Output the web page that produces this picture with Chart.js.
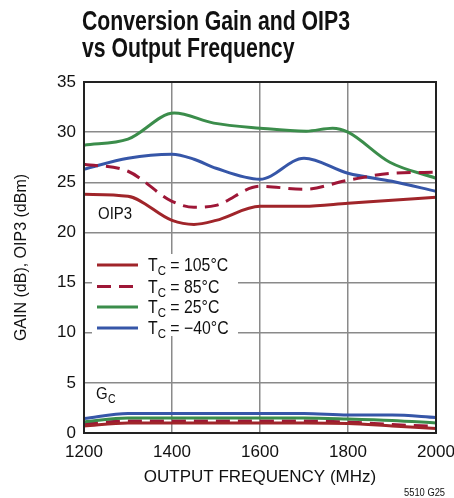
<!DOCTYPE html>
<html>
<head>
<meta charset="utf-8">
<script src="https://cdn.jsdelivr.net/npm/chart.js@4.4.1/dist/chart.umd.min.js"></script>
<style>
  html, body { margin: 0; padding: 0; background: #fff; }
  #wrap { width: 454px; height: 498px; position: relative; }
</style>
</head>
<body>
<div id="wrap"><canvas id="myChart" width="454" height="498"></canvas></div>
<script>
// frequency points (MHz)
var freq = [1200, 1300, 1400, 1450, 1500, 1600, 1700, 1800, 1900, 2000];
var freqGreen = [1200, 1300, 1405, 1495, 1600, 1705, 1765, 1800, 1895, 2000];

// OIP3 (dBm)
var oip3_105 = [23.8, 23.6, 21.2, 20.8, 21.2, 22.6, 22.6, 22.9, 23.2, 23.5];
var oip3_85  = [26.8, 26.1, 23.1, 22.5, 22.7, 24.6, 24.3, 25.2, 25.9, 26.0];
var oip3_25  = [28.7, 29.3, 31.9, 30.9, 30.4, 30.1, 30.4, 30.0, 27.0, 25.4];
var oip3_m40 = [26.3, 27.4, 27.8, 27.3, 26.4, 25.3, 27.4, 25.9, 25.1, 24.1];

// conversion gain (dB)
var gainFreq = [1200, 1300, 1400, 1500, 1600, 1700, 1800, 1900, 2000];
var gain_105 = [0.7, 1.0, 1.0, 1.0, 1.0, 1.0, 0.95, 0.7, 0.45];
var gain_85  = [0.9, 1.2, 1.2, 1.2, 1.2, 1.2, 1.1, 0.85, 0.65];
var gain_25  = [1.1, 1.5, 1.5, 1.5, 1.5, 1.5, 1.4, 1.25, 1.0];
var gain_m40 = [1.45, 1.95, 1.95, 1.95, 1.95, 1.95, 1.8, 1.8, 1.55];

var xTicks = [1200, 1400, 1600, 1800, 2000];
var yTicks = [0, 5, 10, 15, 20, 25, 30, 35];

var legendLabels = ['105°C', '85°C', '25°C', '\u221240°C'];

var RED = '#a0252a', CRIMSON = '#9e1737', GREEN = '#3b8d4b', BLUE = '#3656a8';
var FONT = '"Liberation Sans", Arial, sans-serif';

var pts = function (xs, ys) {
    return xs.map(function (x, i) { return {x: x, y: ys[i]}; });
};

var line = function (data, color, dashed) {
    return {
        data: data,
        borderColor: color,
        backgroundColor: 'transparent',
        borderWidth: 3,
        borderDash: dashed ? [14, 8] : [],
        pointRadius: 0,
        cubicInterpolationMode: 'monotone',
        fill: false
    };
};

// draw text squeezed horizontally to look like a condensed face
var narrowText = function (ctx, text, x, y, sx) {
    ctx.save();
    ctx.translate(x, y);
    ctx.scale(sx, 1);
    ctx.fillText(text, 0, 0);
    ctx.restore();
};

var textPlugin = {
    id: 'textPlugin',
    afterDraw: function (chart) {
        var ctx = chart.ctx;
        var area = chart.chartArea;
        ctx.save();
        // title
        ctx.fillStyle = '#111';
        ctx.textBaseline = 'alphabetic';
        ctx.textAlign = 'left';
        ctx.font = 'bold 27px ' + FONT;
        var sx = 268 / ctx.measureText('Conversion Gain and OIP3').width;
        narrowText(ctx, 'Conversion Gain and OIP3', 82, 30, sx);
        narrowText(ctx, 'vs Output Frequency', 82, 57, sx);

        // curve labels
        ctx.font = '17px ' + FONT;
        narrowText(ctx, 'OIP3', 98, 219, 0.88);
        narrowText(ctx, 'G', 96, 399, 0.88);
        ctx.font = '12px ' + FONT;
        narrowText(ctx, 'C', 108, 403, 0.88);

        // legend
        ctx.fillStyle = '#fff';
        ctx.fillRect(92, 254, 146, 82);
        var colors = [RED, CRIMSON, GREEN, BLUE];
        var rows = [265, 286.5, 307, 328];
        for (var i = 0; i < 4; i++) {
            ctx.strokeStyle = colors[i];
            ctx.lineWidth = 3;
            ctx.setLineDash(i === 1 ? [14, 8] : []);
            ctx.beginPath();
            ctx.moveTo(97, rows[i]);
            ctx.lineTo(138, rows[i]);
            ctx.stroke();
            ctx.setLineDash([]);
            ctx.fillStyle = '#111';
            ctx.font = '18px ' + FONT;
            narrowText(ctx, 'T', 148, rows[i] + 6, 0.88);
            var tw = ctx.measureText('T').width * 0.88;
            ctx.font = '13px ' + FONT;
            narrowText(ctx, 'C', 148 + tw, rows[i] + 10, 0.88);
            var cw = ctx.measureText('C').width * 0.88;
            ctx.font = '18px ' + FONT;
            narrowText(ctx, ' = ' + legendLabels[i], 148 + tw + cw, rows[i] + 6, 0.88);
        }

        // frame
        ctx.strokeStyle = '#222';
        ctx.lineWidth = 2;
        ctx.strokeRect(area.left, area.top, area.right - area.left, area.bottom - area.top);

        // figure id
        ctx.fillStyle = '#111';
        ctx.font = '11px ' + FONT;
        narrowText(ctx, '5510 G25', 404, 496, 0.85);
        ctx.restore();
    }
};

var ctx = document.getElementById('myChart');
var myChart = new Chart(ctx, {
    type: 'line',
    data: {
        datasets: [
            line(pts(freq, oip3_105), RED, false),
            line(pts(freq, oip3_85), CRIMSON, true),
            line(pts(freqGreen, oip3_25), GREEN, false),
            line(pts(freq, oip3_m40), BLUE, false),
            line(pts(gainFreq, gain_m40), BLUE, false),
            line(pts(gainFreq, gain_25), GREEN, false),
            line(pts(gainFreq, gain_105), RED, false),
            line(pts(gainFreq, gain_85), CRIMSON, true)
        ]
    },
    options: {
        responsive: false,
        animation: false,
        layout: {padding: {top: 82, right: 18, left: 0, bottom: 0}},
        plugins: {
            legend: {display: false},
            title: {display: false},
            tooltip: {enabled: false}
        },
        scales: {
            x: {
                type: 'linear',
                min: 1200,
                max: 2000,
                afterBuildTicks: function (axis) {
                    axis.ticks = xTicks.map(function (v) { return {value: v}; });
                },
                afterFit: function (axis) {
                    axis.height = 65;
                    axis.paddingLeft = 0;
                    axis.paddingRight = 0;
                },
                grid: {color: '#8a8a8a', lineWidth: 1.5, drawTicks: false},
                border: {display: false},
                ticks: {
                    color: '#111',
                    font: {family: FONT, size: 17},
                    padding: 9,
                    maxRotation: 0,
                    callback: function (v) { return String(v); }
                },
                title: {
                    display: true,
                    text: 'OUTPUT FREQUENCY (MHz)',
                    color: '#111',
                    font: {family: FONT, size: 17},
                    padding: {top: 2, bottom: 10}
                }
            },
            y: {
                min: 0,
                max: 35,
                afterBuildTicks: function (axis) {
                    axis.ticks = yTicks.map(function (v) { return {value: v}; });
                },
                afterFit: function (axis) {
                    axis.width = 84;
                    axis.paddingTop = 0;
                    axis.paddingBottom = 0;
                },
                grid: {color: '#8a8a8a', lineWidth: 1.5, drawTicks: false},
                border: {display: false},
                ticks: {
                    color: '#111',
                    font: {family: FONT, size: 17},
                    padding: 8,
                    callback: function (v) { return String(v); }
                },
                title: {
                    display: true,
                    text: 'GAIN (dB), OIP3 (dBm)',
                    color: '#111',
                    font: {family: FONT, size: 16},
                    padding: {top: 12, bottom: 4}
                }
            }
        }
    },
    plugins: [textPlugin]
});
</script>
</body>
</html>
